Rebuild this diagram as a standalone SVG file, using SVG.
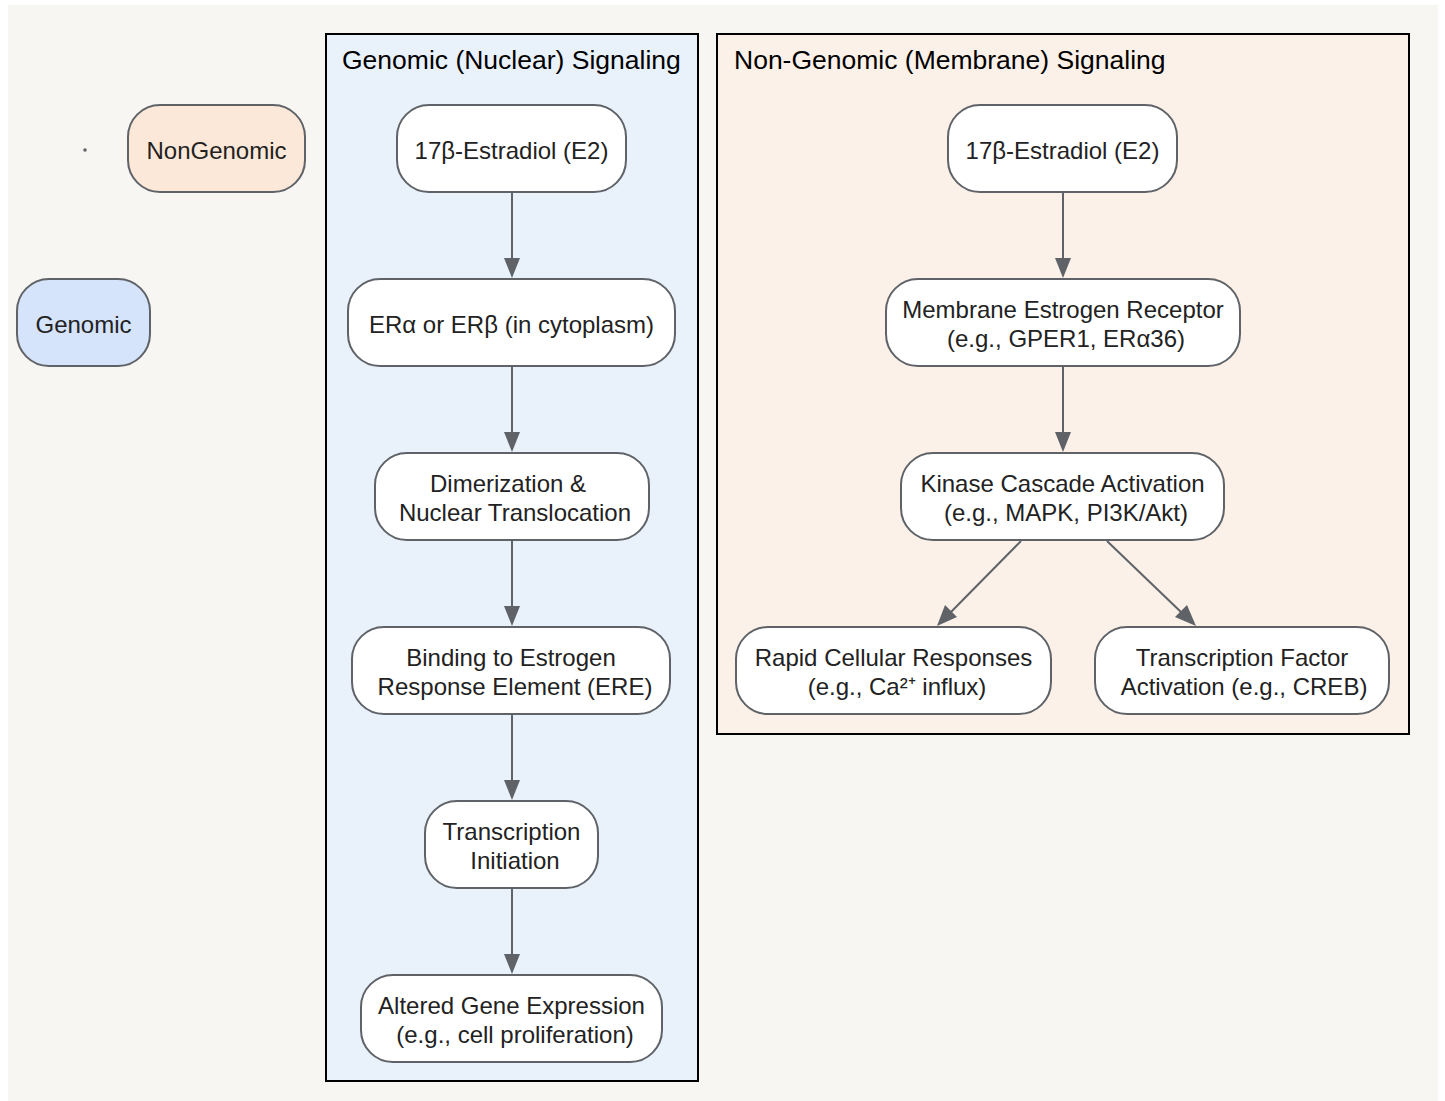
<svg xmlns="http://www.w3.org/2000/svg" width="1445" height="1101" viewBox="0 0 1445 1101">
<style>
.node{stroke:#5f6368;stroke-width:2}
.w{fill:#ffffff}
.t{font-family:"Liberation Sans",Arial,sans-serif;font-size:24px;fill:#222222;text-anchor:middle;dominant-baseline:central}
.title{font-family:"Liberation Sans",Arial,sans-serif;font-size:26.5px;fill:#000000;dominant-baseline:central}
.cl{stroke:#000000;stroke-width:2}
.e{stroke:#5f6368;stroke-width:2;fill:none}
.h{fill:#5f6368}
</style>
<rect x="0" y="0" width="1445" height="1101" fill="#ffffff"/>
<rect x="8" y="5" width="1430" height="1096" fill="#f8f6f2"/>
<g id="cluster-genomic">
<rect class="cl" x="326" y="34" width="372" height="1047" fill="#e9f1fb"/>
<text class="title" x="342" y="60">Genomic (Nuclear) Signaling</text>
</g>
<g id="cluster-nongenomic">
<rect class="cl" x="717" y="34" width="692" height="700" fill="#fbf1e8"/>
<text class="title" x="734" y="60">Non-Genomic (Membrane) Signaling</text>
</g>
<g id="connectors">
<line class="e" x1="512" y1="193" x2="512" y2="262"/>
<path class="h" d="M504,258 L520,258 L512,278 z"/>
<line class="e" x1="512" y1="367" x2="512" y2="436"/>
<path class="h" d="M504,432 L520,432 L512,452 z"/>
<line class="e" x1="512" y1="541" x2="512" y2="610"/>
<path class="h" d="M504,606 L520,606 L512,626 z"/>
<line class="e" x1="512" y1="715" x2="512" y2="784"/>
<path class="h" d="M504,780 L520,780 L512,800 z"/>
<line class="e" x1="512" y1="889" x2="512" y2="958"/>
<path class="h" d="M504,954 L520,954 L512,974 z"/>
<line class="e" x1="1063" y1="193" x2="1063" y2="262"/>
<path class="h" d="M1055,258 L1071,258 L1063,278 z"/>
<line class="e" x1="1063" y1="367" x2="1063" y2="436"/>
<path class="h" d="M1055,432 L1071,432 L1063,452 z"/>
<line class="e" x1="1021" y1="541" x2="950" y2="613"/>
<path class="h" d="M937,626 L945,605 L957,617 z"/>
<line class="e" x1="1107" y1="541" x2="1182" y2="613"/>
<path class="h" d="M1196,626 L1175,617 L1187,605 z"/>
</g>
<g id="legend-dot"><circle cx="85" cy="150" r="1.8" fill="#5f6368"/></g>
<g id="NonGenomic">
<rect class="node" x="128" y="105" width="177" height="87" rx="32" fill="#fce8d8"/>
<text class="t" x="216.5" y="150">NonGenomic</text>
</g>
<g id="Genomic">
<rect class="node" x="17" y="279" width="133" height="87" rx="32" fill="#d5e3fb"/>
<text class="t" x="83.5" y="324">Genomic</text>
</g>
<g id="G1">
<rect class="node w" x="397" y="105" width="229" height="87" rx="32"/>
<text class="t" x="511.5" y="150">17β-Estradiol (E2)</text>
</g>
<g id="G2">
<rect class="node w" x="348" y="279" width="327" height="87" rx="32"/>
<text class="t" x="511.5" y="324">ERα or ERβ (in cytoplasm)</text>
</g>
<g id="G3">
<rect class="node w" x="375" y="453" width="274" height="87" rx="32"/>
<text class="t" x="508" y="483">Dimerization &amp;</text>
<text class="t" x="515" y="512">Nuclear Translocation</text>
</g>
<g id="G4">
<rect class="node w" x="352" y="627" width="318" height="87" rx="32"/>
<text class="t" x="511" y="657">Binding to Estrogen</text>
<text class="t" x="515" y="686">Response Element (ERE)</text>
</g>
<g id="G5">
<rect class="node w" x="425" y="801" width="173" height="87" rx="32"/>
<text class="t" x="511.5" y="831">Transcription</text>
<text class="t" x="515" y="860">Initiation</text>
</g>
<g id="G6">
<rect class="node w" x="361" y="975" width="301" height="87" rx="32"/>
<text class="t" x="511.5" y="1005">Altered Gene Expression</text>
<text class="t" x="515" y="1034">(e.g., cell proliferation)</text>
</g>
<g id="N1">
<rect class="node w" x="948" y="105" width="229" height="87" rx="32"/>
<text class="t" x="1062.5" y="150">17β-Estradiol (E2)</text>
</g>
<g id="N2">
<rect class="node w" x="886" y="279" width="354" height="87" rx="32"/>
<text class="t" x="1063" y="309">Membrane Estrogen Receptor</text>
<text class="t" x="1066" y="338">(e.g., GPER1, ERα36)</text>
</g>
<g id="N3">
<rect class="node w" x="901" y="453" width="323" height="87" rx="32"/>
<text class="t" x="1062.5" y="483">Kinase Cascade Activation</text>
<text class="t" x="1066" y="512">(e.g., MAPK, PI3K/Akt)</text>
</g>
<g id="N4">
<rect class="node w" x="736" y="627" width="315" height="87" rx="32"/>
<text class="t" x="893.5" y="657">Rapid Cellular Responses</text>
<text class="t" x="897" y="686">(e.g., Ca²⁺ influx)</text>
</g>
<g id="N5">
<rect class="node w" x="1095" y="627" width="294" height="87" rx="32"/>
<text class="t" x="1242" y="657">Transcription Factor</text>
<text class="t" x="1244" y="686">Activation (e.g., CREB)</text>
</g>
</svg>
